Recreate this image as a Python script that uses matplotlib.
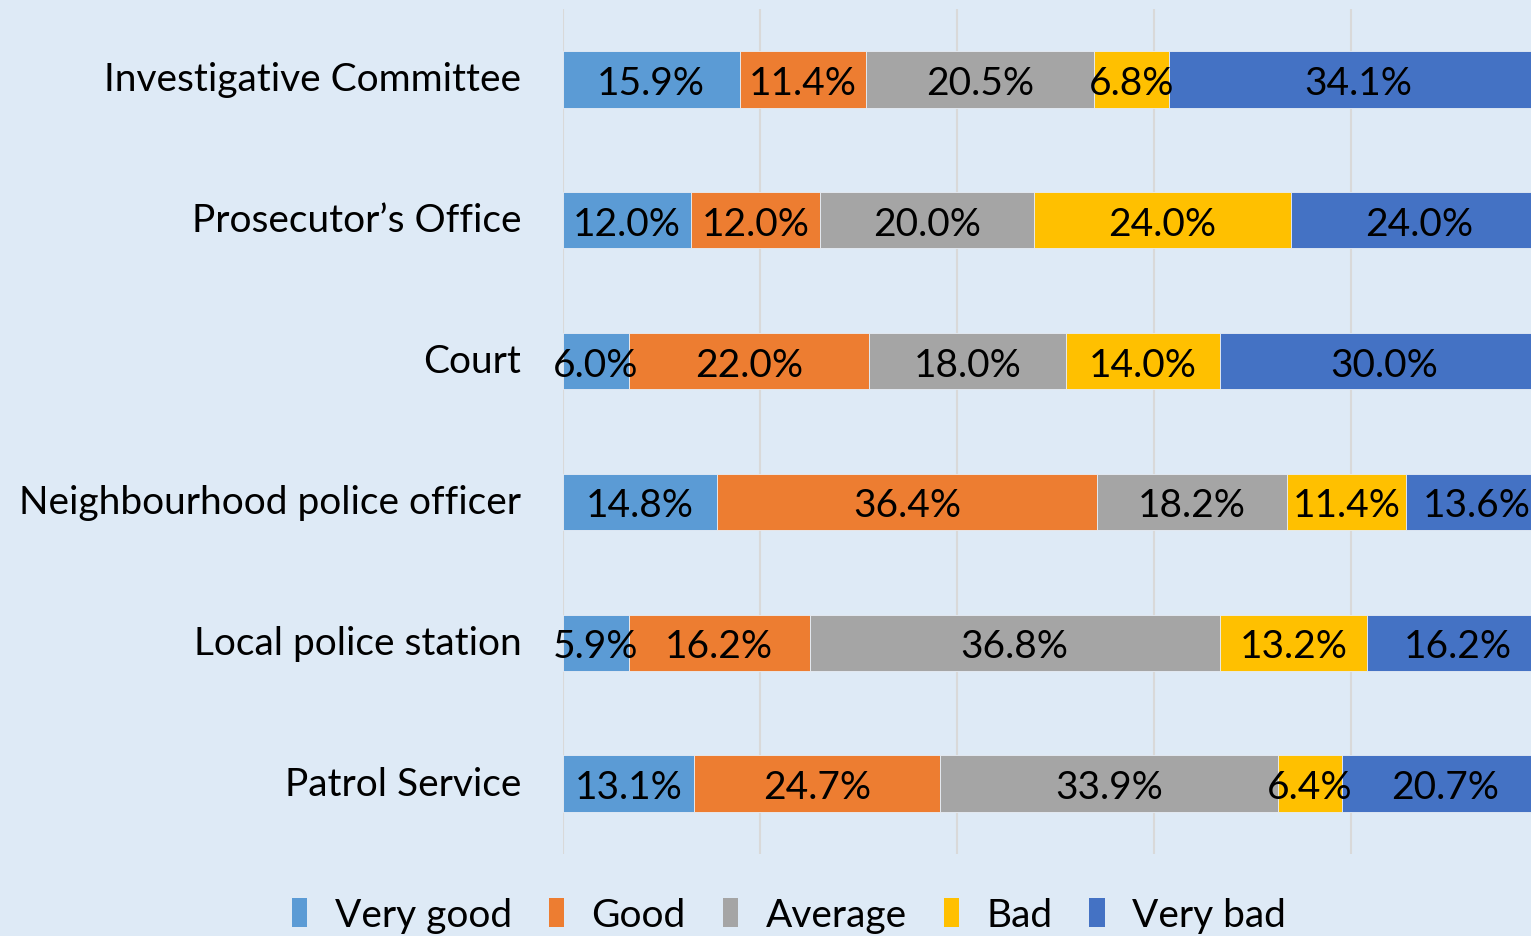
import matplotlib
matplotlib.use("Agg")
import matplotlib.pyplot as plt
import numpy as np
from matplotlib.patches import Patch

categories = ["Investigative Committee", "Prosecutor\u2019s Office", "Court",
              "Neighbourhood police officer", "Local police station", "Patrol Service"]
series_names = ["Very good", "Good", "Average", "Bad", "Very bad"]
very_good = [15.9, 12.0, 6.0, 14.8, 5.9, 13.1]
good = [11.4, 12.0, 22.0, 36.4, 16.2, 24.7]
average = [20.5, 20.0, 18.0, 18.2, 36.8, 33.9]
bad = [6.8, 24.0, 14.0, 11.4, 13.2, 6.4]
very_bad = [34.1, 24.0, 30.0, 13.6, 16.2, 20.7]
colors = ["#5B9BD5", "#ED7D31", "#A5A5A5", "#FFC000", "#4472C4"]

bg = "#DEEAF6"
FONT = ["Lato", "DejaVu Sans"]
plt.rcParams["font.family"] = FONT
FS = 28

W, H = 1531, 937
fig = plt.figure(figsize=(W / 100, H / 100), dpi=100, facecolor=bg)
ax = fig.add_axes([563 / W, 82 / H, 985 / W, 845 / H])
ax.set_facecolor(bg)

data = np.array([very_good, good, average, bad, very_bad])
totals = data.sum(axis=0)
frac = data / totals
y = np.arange(len(categories))
left = np.zeros(len(categories))
for i, name in enumerate(series_names):
    ax.barh(y, frac[i], left=left, height=0.4, color=colors[i],
            edgecolor="#E8EEF6", linewidth=0.6, zorder=3, label=name)
    for j in range(len(categories)):
        ax.text(left[j] + frac[i][j] / 2, y[j] + 0.025, f"{data[i][j]:.1f}%",
                ha="center", va="center", fontsize=FS, color="black", zorder=4,
                clip_on=False)
    left += frac[i]

ax.set_xlim(0, 1)
ax.set_ylim(len(categories) - 0.5, -0.5)
ax.set_xticks(np.arange(0, 1.01, 0.2))
ax.xaxis.grid(True, color="#D9D9D9", linewidth=1.5, zorder=0)
ax.tick_params(axis="x", length=0, labelbottom=False)
ax.set_yticks(y)
ax.set_yticklabels(categories, fontsize=FS, va="center")
ax.tick_params(axis="y", length=0, pad=30)
for s in ax.spines.values():
    s.set_visible(False)

handles = [Patch(facecolor=c, edgecolor="none") for c in colors]
leg = fig.legend(handles, series_names, loc="center", bbox_to_anchor=(789 / W, 1 - 916 / H),
                 ncol=5, frameon=False, fontsize=FS, handlelength=0.4, handleheight=0.75,
                 handletextpad=0.7, columnspacing=0.95)

fig.savefig("out.png", dpi=100, facecolor=bg)
